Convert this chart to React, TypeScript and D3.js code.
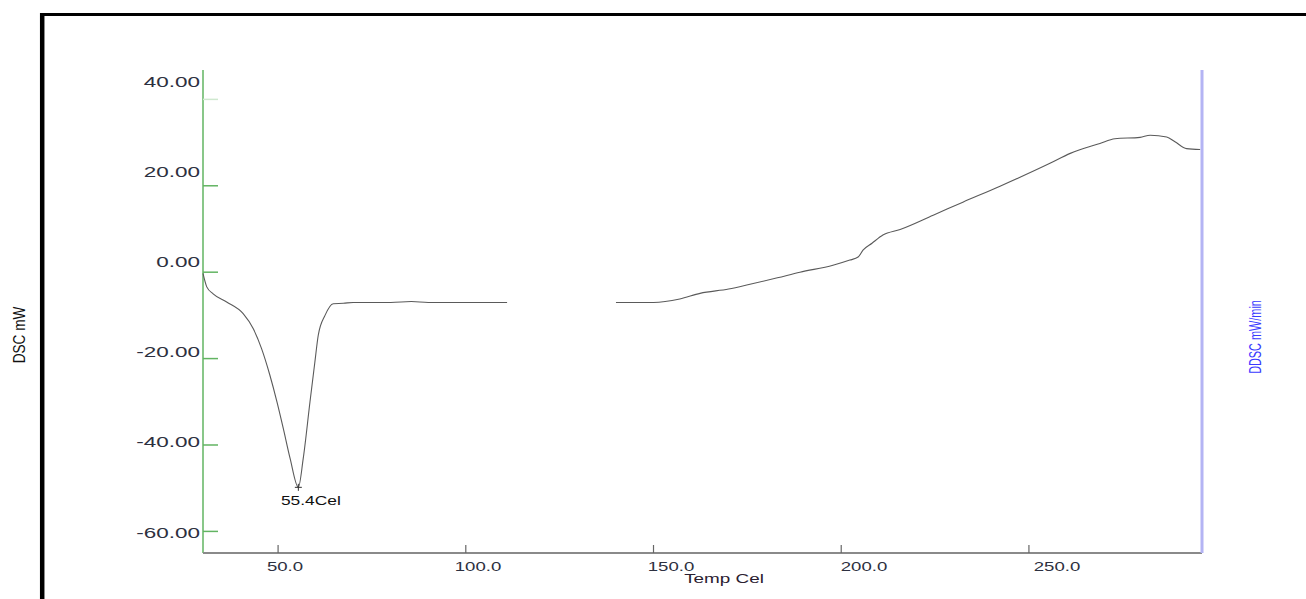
import React from "react";
import * as d3 from "d3";

// DSC trace (Temp in Cel, DSC in mW)
const tempC = [
  30, 31, 32.7, 36.3, 40.7, 43.4, 45.6, 47.8, 49.7, 51.4, 53.2, 55.4, 56.7, 58.5,
  59.8, 60.7, 62.5, 64.7, 67.4, 70, 80, 85.5, 90, 100, 111, 125, 140, 150, 157,
  162.4, 170, 175.7, 183, 189, 197.8, 202.3, 204.5, 205.8, 208.2, 211.1, 215.7,
  224.5, 232.4, 242.3, 255.6, 261, 268.9, 272.9, 279.6, 282.3, 286.7, 288.9, 292,
  295.6,
];
const dscMW: (number | null)[] = [
  -0.3, -3.4, -5.0, -6.9, -9.6, -13.1, -17.7, -23.8, -30.0, -36.2, -43.1, -49.8,
  -43.1, -30.0, -20.8, -14.6, -10.0, -7.3, -7.2, -7.0, -7.0, -6.8, -7.0, -7.0,
  -7.0, null, -7.0, -7.0, -6.2, -4.9, -3.9, -2.8, -1.3, 0.0, 1.6, 2.8, 3.5, 5.1,
  6.7, 8.6, 9.9, 13.2, 16.2, 19.9, 25.2, 27.5, 29.8, 30.9, 31.2, 31.7, 31.3, 30.2,
  28.6, 28.4,
];

const xTicks = [50, 100, 150, 200, 250];
const yTicks = [40, 20, 0, -20, -40, -60];
const peakT = 55.4;
const peakV = -49.8;

const W = 1306;
const H = 599;
const left = 203, right = 1202, top = 70, bottom = 553;
const font = "'Liberation Sans', Arial, sans-serif";

export default function App() {
  const x = d3.scaleLinear().domain([30, 296.1]).range([left, right]);
  const y = d3.scaleLinear().domain([-65, 46.8]).range([bottom, top]);
  // the instrument prints its tick labels on a slightly different spacing than the ticks
  const xLab = d3.scaleLinear().domain([50, 250]).range([285, 1057]);
  const yLab = d3.scaleLinear().domain([40, -60]).range([81.7, 532]);

  const pts = tempC.map((t, i) => [t, dscMW[i]] as [number, number | null]);
  const line = d3
    .line<[number, number | null]>()
    .defined((d) => d[1] !== null)
    .x((d) => x(d[0]))
    .y((d) => y(d[1] as number))
    .curve(d3.curveMonotoneX);

  const green = "#62b462";

  return (
    <svg
      width={W}
      height={H}
      style={{ position: "absolute", left: 0, top: 0, background: "#fff" }}
    >
      {/* outer frame */}
      <line x1={40} y1={14.5} x2={W} y2={14.5} stroke="#000" strokeWidth={3} />
      <line x1={42.2} y1={13} x2={42.2} y2={H} stroke="#000" strokeWidth={4.5} />

      {/* y axis (green) */}
      <line x1={left} y1={top} x2={left} y2={bottom} stroke={green} strokeWidth={1.5} />
      {yTicks.map((v) => (
        <g key={v}>
          <line
            x1={left}
            x2={left + 15}
            y1={y(v)}
            y2={y(v)}
            stroke={v === 40 ? "#cfe8cf" : green}
            strokeWidth={1.5}
          />
          <g transform={`translate(200,${yLab(v) + 5.5}) scale(1.5,1)`}>
            <text
              textAnchor="end"
              fontFamily={font}
              fontSize={15}
              fill="#2d3040"
            >
              {v.toFixed(2)}
            </text>
          </g>
        </g>
      ))}

      {/* x axis */}
      <line x1={left} y1={bottom} x2={right} y2={bottom} stroke="#8a8a8a" strokeWidth={2} />
      {xTicks.map((t) => (
        <g key={t}>
          <line x1={x(t)} x2={x(t)} y1={bottom - 8} y2={bottom} stroke="#666" strokeWidth={1.2} />
          <g transform={`translate(${xLab(t)},571) scale(1.55,1)`}>
            <text textAnchor="middle" fontFamily={font} fontSize={12} fill="#2d3040">
              {t.toFixed(1)}
            </text>
          </g>
        </g>
      ))}
      <g transform="translate(724,583) scale(1.4,1)">
        <text textAnchor="middle" fontFamily={font} fontSize={13.5} fill="#2a2030">
          Temp Cel
        </text>
      </g>

      {/* right axis (blue) */}
      <line x1={right} y1={top} x2={right} y2={bottom} stroke="#b4b4f4" strokeWidth={3} />

      {/* axis titles */}
      <g transform="translate(25,335) rotate(-90) scale(0.85,1)">
        <text textAnchor="middle" fontFamily={font} fontSize={16} fill="#111">
          DSC mW
        </text>
      </g>
      <g transform="translate(1261,337) rotate(-90) scale(0.68,1)">
        <text textAnchor="middle" fontFamily={font} fontSize={16} fill="#3a3aff">
          DDSC mW/min
        </text>
      </g>

      {/* trace */}
      <path d={line(pts) || ""} fill="none" stroke="#5a5a5a" strokeWidth={1.1} />

      {/* peak marker */}
      <g stroke="#333" strokeWidth={1}>
        <line x1={x(peakT) - 3.5} x2={x(peakT) + 3.5} y1={y(peakV)} y2={y(peakV)} />
        <line x1={x(peakT)} x2={x(peakT)} y1={y(peakV) - 3.5} y2={y(peakV) + 3.5} />
      </g>
      <g transform={`translate(${x(peakT) + 12.5},505) scale(1.39,1)`}>
        <text textAnchor="middle" fontFamily={font} fontSize={12.5} fill="#111">
          {`${peakT}Cel`}
        </text>
      </g>
    </svg>
  );
}
